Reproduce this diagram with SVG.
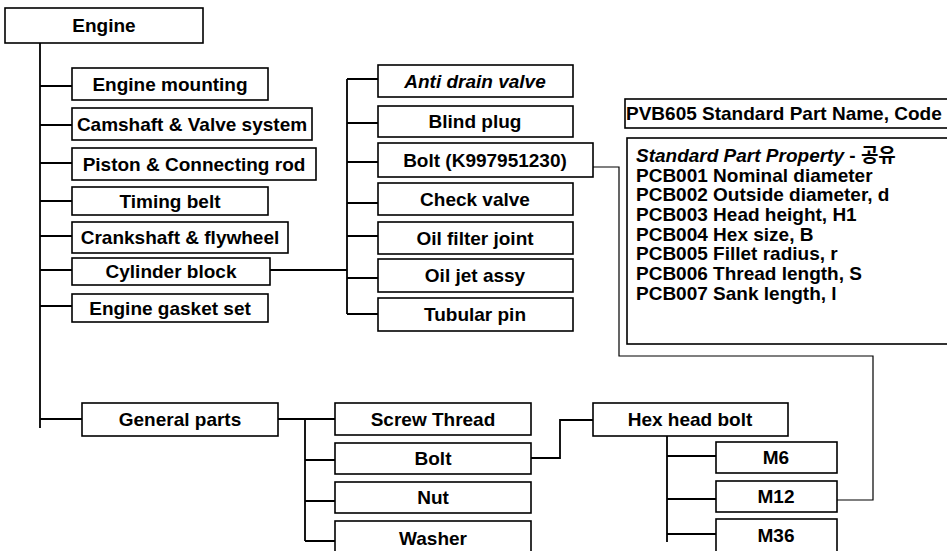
<svg xmlns="http://www.w3.org/2000/svg" width="947" height="551" viewBox="0 0 947 551">
<style>
.b{fill:#fff;stroke:#000;stroke-width:1.6}
.t{font-family:"Liberation Sans","Noto Sans CJK KR",Arial,sans-serif;font-size:19px;font-weight:bold;fill:#000;text-anchor:middle}
.l{text-anchor:start}
.i{font-style:italic}
.c{fill:none;stroke:#000;stroke-width:1.8}
.c2{fill:none;stroke:#000;stroke-width:1.2}
</style>
<rect width="947" height="551" fill="#fff"/>
<g id="connectors">
<path class="c" d="M40 43V428M40 86H72M40 125H72M40 163H72M40 201H72M40 236H72M40 270H72M40 306H72M40 419H82"/>
<path class="c" d="M270 270H347M347 79V314M347 79H378M347 123H378M347 162H378M347 203H378M347 236H378M347 278H378M347 314H378"/>
<path class="c" d="M278 419H335M305 419V541M305 460H335M305 501H335M305 541H335"/>
<path class="c" d="M531 458H560V420H593"/>
<path class="c" d="M667 436V542M667 456H716M667 499H716M667 534H716"/>
<path class="c2" d="M837 500H873V356H619V167H593"/>
</g>
<g id="engine"><rect class="b" x="5" y="8" width="198" height="35"/><text class="t" x="104" y="32">Engine</text></g>
<g id="engine-mounting"><rect class="b" x="72" y="68" width="196" height="32"/><text class="t" x="170" y="91">Engine mounting</text></g>
<g id="camshaft"><rect class="b" x="72" y="108" width="240" height="32"/><text class="t" x="192" y="131">Camshaft &amp; Valve system</text></g>
<g id="piston"><rect class="b" x="72" y="148" width="244" height="32"/><text class="t" x="194" y="171">Piston &amp; Connecting rod</text></g>
<g id="timing-belt"><rect class="b" x="72" y="187" width="196" height="28"/><text class="t" x="170" y="208">Timing belt</text></g>
<g id="crankshaft"><rect class="b" x="72" y="222" width="216" height="31"/><text class="t" x="180" y="244">Crankshaft &amp; flywheel</text></g>
<g id="cylinder-block"><rect class="b" x="72" y="258" width="198" height="27"/><text class="t" x="171" y="278">Cylinder block</text></g>
<g id="engine-gasket"><rect class="b" x="72" y="294" width="196" height="28"/><text class="t" x="170" y="315">Engine gasket set</text></g>
<g id="anti-drain"><rect class="b" x="378" y="65" width="195" height="32"/><text class="t i" x="475" y="88">Anti drain valve</text></g>
<g id="blind-plug"><rect class="b" x="378" y="106" width="195" height="31"/><text class="t" x="475" y="128">Blind plug</text></g>
<g id="bolt-k"><rect class="b" x="378" y="143" width="215" height="34"/><text class="t" x="485" y="167">Bolt (K997951230)</text></g>
<g id="check-valve"><rect class="b" x="378" y="183" width="195" height="32"/><text class="t" x="475" y="206">Check valve</text></g>
<g id="oil-filter"><rect class="b" x="378" y="222" width="195" height="32"/><text class="t" x="475" y="245">Oil filter joint</text></g>
<g id="oil-jet"><rect class="b" x="378" y="259" width="195" height="33"/><text class="t" x="475" y="282">Oil jet assy</text></g>
<g id="tubular-pin"><rect class="b" x="378" y="298" width="195" height="33"/><text class="t" x="475" y="321">Tubular pin</text></g>
<g id="pvb605"><rect class="b" x="625" y="99" width="330" height="29"/><text class="t l" x="626" y="120">PVB605 Standard Part Name, Code</text></g>
<g id="properties"><rect class="b" x="627" y="138" width="330" height="206"/>
<text class="t l" x="636" y="162"><tspan class="i">Standard Part Property</tspan> - 공유</text>
<text class="t l" x="636" y="182">PCB001 Nominal diameter</text>
<text class="t l" x="636" y="201">PCB002 Outside diameter, d</text>
<text class="t l" x="636" y="221">PCB003 Head height, H1</text>
<text class="t l" x="636" y="241">PCB004 Hex size, B</text>
<text class="t l" x="636" y="260">PCB005 Fillet radius, r</text>
<text class="t l" x="636" y="280">PCB006 Thread length, S</text>
<text class="t l" x="636" y="300">PCB007 Sank length, l</text>
</g>
<g id="general-parts"><rect class="b" x="82" y="403" width="196" height="33"/><text class="t" x="180" y="426">General parts</text></g>
<g id="screw-thread"><rect class="b" x="335" y="403" width="196" height="32"/><text class="t" x="433" y="426">Screw Thread</text></g>
<g id="bolt"><rect class="b" x="335" y="443" width="196" height="31"/><text class="t" x="433" y="465">Bolt</text></g>
<g id="nut"><rect class="b" x="335" y="482" width="196" height="31"/><text class="t" x="433" y="504">Nut</text></g>
<g id="washer"><rect class="b" x="335" y="521" width="196" height="40"/><text class="t" x="433" y="545">Washer</text></g>
<g id="hex-head-bolt"><rect class="b" x="593" y="403" width="195" height="33"/><text class="t" x="690" y="426">Hex head bolt</text></g>
<g id="m6"><rect class="b" x="716" y="442" width="121" height="31"/><text class="t" x="776" y="464">M6</text></g>
<g id="m12"><rect class="b" x="716" y="481" width="121" height="31"/><text class="t" x="776" y="503">M12</text></g>
<g id="m36"><rect class="b" x="716" y="519" width="121" height="40"/><text class="t" x="776" y="542">M36</text></g>
</svg>
